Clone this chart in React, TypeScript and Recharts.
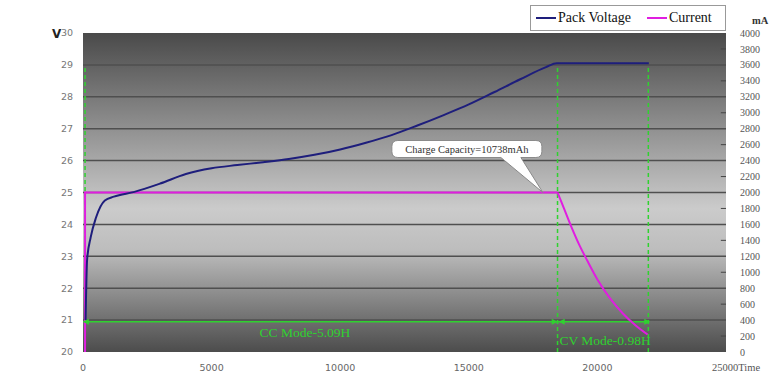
import {
  ComposedChart,
  Line,
  XAxis,
  YAxis,
  ReferenceLine,
  ReferenceArea,
  ReferenceDot,
} from "recharts";

// time (s) axis
const timeTicks = [0, 5000, 10000, 15000, 20000, 25000];
const voltTicks = [20, 21, 22, 23, 24, 25, 26, 27, 28, 29, 30];
const currentTicks = [
  0, 200, 400, 600, 800, 1000, 1200, 1400, 1600, 1800, 2000, 2200, 2400, 2600,
  2800, 3000, 3200, 3400, 3600, 3800, 4000,
];

// Pack voltage (V) vs time
const voltTime = [
  100, 160, 300, 500, 850, 1200, 2000, 3000, 4000, 5000, 6000, 7000, 8000,
  9000, 10000, 11000, 12000, 13000, 14000, 15000, 16000, 17000, 18000, 18420,
  22000,
];
const voltValues = [
  21.0, 22.9, 23.6, 24.2, 24.75, 24.87, 25.02, 25.28, 25.58, 25.76, 25.86,
  25.95, 26.05, 26.18, 26.35, 26.56, 26.8, 27.1, 27.42, 27.76, 28.15, 28.55,
  28.93, 29.05, 29.05,
];

// Current (mA): constant-current part, then constant-voltage decay
const ccTime = [80, 80, 18450];
const ccValues = [0, 2000, 2000];
const cvTime = [18450, 18700, 19000, 19300, 19600, 20000, 20500, 21000, 21500, 21950];
const cvValues = [2000, 1800, 1560, 1340, 1150, 910, 670, 480, 330, 220];

// mode markers
const modeSplits = [80, 18450, 21980];
const modeArrowTime = [150, 18300, 18650, 21900];
const modeArrowLevel = 20.95;

const voltData = voltTime.map((t, i) => ({ t, v: voltValues[i] }));
const ccData = ccTime.map((t, i) => ({ t, ma: ccValues[i] }));
const cvData = cvTime.map((t, i) => ({ t, ma: cvValues[i] }));
const arrowData = modeArrowTime.map((t) => ({ t, v: modeArrowLevel }));

const NAVY = "#1e1e7c";
const MAGENTA = "#e01ee0";
const GREEN = "#2fd22f";

const XTick = ({ x, y, payload }: any) => {
  if (payload.value === 25000) {
    return (
      <text x={x - 14} y={y + 11} textAnchor="start" fontSize={10.5} fill="#555" fontFamily="Liberation Serif">
        25000Time
      </text>
    );
  }
  return (
    <text x={x} y={y + 11} textAnchor="middle" fontSize={9.5} fill="#666" fontFamily="DejaVu Sans">
      {payload.value}
    </text>
  );
};

const ArrowDot = ({ cx, cy, index }: any) => {
  const left = index % 2 === 0;
  const d = left
    ? `M${cx - 4},${cy} L${cx + 2},${cy - 3} L${cx + 2},${cy + 3} Z`
    : `M${cx + 4},${cy} L${cx - 2},${cy - 3} L${cx - 2},${cy + 3} Z`;
  return <path key={index} d={d} fill={GREEN} />;
};

const Callout = ({ cx, cy }: any) => {
  const l = cx - 151;
  const r = cx - 1;
  const t = cy - 52;
  const b = cy - 35;
  const rad = 6;
  const d = `M${l + rad},${t} L${r - rad},${t} Q${r},${t} ${r},${t + rad} L${r},${b - rad} Q${r},${b} ${r - rad},${b}
    L${cx - 22},${b} L${cx},${cy} L${cx - 42},${b}
    L${l + rad},${b} Q${l},${b} ${l},${b - rad} L${l},${t + rad} Q${l},${t} ${l + rad},${t} Z`;
  return (
    <g>
      <path d={d} fill="#fff" stroke="#8a8a8a" strokeWidth={1} />
      <text x={(l + r) / 2} y={t + 12.5} textAnchor="middle" fontSize={10.5} fill="#333" fontFamily="Liberation Serif">
        Charge Capacity=10738mAh
      </text>
    </g>
  );
};

export default function App() {
  return (
    <div style={{ position: "absolute", left: 0, top: 0, width: 776, height: 375, background: "#fff" }}>
      <ComposedChart width={776} height={375} margin={{ top: 33, right: 0, bottom: 0, left: 43 }}>
        <defs>
          <linearGradient id="plotBg" x1="0" y1="0" x2="0" y2="1">
            <stop offset="0%" stopColor="#4a4a4a" />
            <stop offset="55%" stopColor="#cbcbcb" />
            <stop offset="68%" stopColor="#bdbdbd" />
            <stop offset="100%" stopColor="#4c4c4c" />
          </linearGradient>
        </defs>
        <XAxis
          type="number"
          dataKey="t"
          domain={[0, 25000]}
          ticks={timeTicks}
          height={23}
          axisLine={false}
          tickLine={false}
          tick={<XTick />}
          allowDataOverflow
        />
        <YAxis
          yAxisId="v"
          type="number"
          domain={[20, 30]}
          ticks={voltTicks}
          width={40}
          axisLine={false}
          tickLine={false}
          tickMargin={4}
          tick={{ fontSize: 9.5, fill: "#777", fontFamily: "DejaVu Sans" }}
          allowDataOverflow
        />
        <YAxis
          yAxisId="ma"
          orientation="right"
          type="number"
          domain={[0, 4000]}
          ticks={currentTicks}
          interval={0}
          width={50}
          axisLine={false}
          tickLine={false}
          tickMargin={8}
          tick={{ fontSize: 10, fill: "#555", fontFamily: "Liberation Serif", textAnchor: "start" }}
          allowDataOverflow
        />
        <ReferenceArea yAxisId="v" x1={0} x2={25000} y1={20} y2={30} fill="url(#plotBg)" fillOpacity={1} stroke="none" />
        {voltTicks.slice(1, -1).map((v) => (
          <ReferenceLine key={v} yAxisId="v" y={v} stroke="#4f4f4f" strokeWidth={1.5} />
        ))}
        {currentTicks
          .filter((m) => m % 400 === 200)
          .map((m) => (
            <ReferenceLine
              key={m}
              yAxisId="ma"
              segment={[
                { x: 24800, y: m },
                { x: 25000, y: m },
              ]}
              stroke="#444"
            />
          ))}
        {modeSplits.map((t) => (
          <ReferenceLine
            key={t}
            yAxisId="v"
            segment={[
              { x: t, y: 20 },
              { x: t, y: 29 },
            ]}
            stroke={GREEN}
            strokeWidth={1.5}
            strokeDasharray="4 3"
          />
        ))}
        <Line
          yAxisId="v"
          data={arrowData}
          dataKey="v"
          type="linear"
          stroke={GREEN}
          strokeWidth={1.5}
          dot={<ArrowDot />}
          isAnimationActive={false}
        />
        <Line
          yAxisId="ma"
          data={ccData}
          dataKey="ma"
          type="linear"
          stroke={MAGENTA}
          strokeWidth={2}
          dot={false}
          isAnimationActive={false}
        />
        <Line
          yAxisId="ma"
          data={cvData}
          dataKey="ma"
          type="monotone"
          stroke={MAGENTA}
          strokeWidth={2}
          dot={false}
          isAnimationActive={false}
        />
        <Line
          yAxisId="v"
          data={voltData}
          dataKey="v"
          type="monotone"
          stroke={NAVY}
          strokeWidth={2}
          dot={false}
          isAnimationActive={false}
        />
        <ReferenceDot
          yAxisId="v"
          x={8630}
          y={20.62}
          r={0}
          label={{ value: "CC Mode-5.09H", fill: GREEN, fontSize: 13.5, fontFamily: "Liberation Serif", position: "center" }}
        />
        <ReferenceDot
          yAxisId="v"
          x={20300}
          y={20.38}
          r={0}
          label={{ value: "CV Mode-0.98H", fill: GREEN, fontSize: 13.5, fontFamily: "Liberation Serif", position: "center" }}
        />
        <ReferenceDot yAxisId="ma" x={17880} y={2000} r={0} shape={<Callout />} />
      </ComposedChart>

      {/* axis unit labels */}
      <div style={{ position: "absolute", left: 52, top: 27, fontFamily: "DejaVu Sans", fontWeight: "bold", fontSize: 12, color: "#222" }}>
        V
      </div>
      <div style={{ position: "absolute", left: 752, top: 15, fontFamily: "Liberation Serif", fontWeight: "bold", fontSize: 10.5, color: "#333" }}>
        mA
      </div>

      {/* legend */}
      <div
        style={{
          position: "absolute",
          left: 530,
          top: 5,
          width: 196,
          height: 26,
          boxSizing: "border-box",
          border: "1px solid #999",
          background: "#fff",
          display: "flex",
          alignItems: "center",
          fontFamily: "Liberation Serif",
          fontSize: 14,
          color: "#111",
        }}
      >
        <span style={{ display: "inline-block", width: 20, height: 2, background: NAVY, marginLeft: 5, marginRight: 2 }} />
        <span>Pack Voltage</span>
        <span style={{ display: "inline-block", width: 20, height: 2, background: MAGENTA, marginLeft: 16, marginRight: 2 }} />
        <span>Current</span>
      </div>
    </div>
  );
}
